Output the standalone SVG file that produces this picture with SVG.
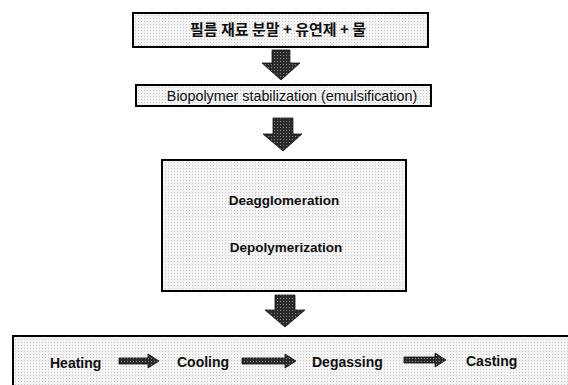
<svg xmlns="http://www.w3.org/2000/svg" width="568" height="385" viewBox="0 0 568 385">
<defs>
<pattern id="dots" width="3" height="3" patternUnits="userSpaceOnUse">
<rect width="3" height="3" fill="#f4f4f4"/>
<rect x="0" y="0" width="1" height="1" fill="#c8c8c8"/>
</pattern>
<pattern id="hatch" width="3" height="3" patternUnits="userSpaceOnUse">
<rect width="3" height="3" fill="#2a2a2a"/>
<rect x="1" y="1" width="1" height="1" fill="#8a8a8a"/>
</pattern>
</defs>
<style>
.box{fill:url(#dots);stroke:#000;stroke-width:2}
.arr{fill:url(#hatch);stroke:#111;stroke-width:0.8}
.t{font-family:"Liberation Sans",Arial,sans-serif;fill:#111}
.b{font-weight:bold;font-size:13.5px}
.k{font-family:"Noto Sans CJK KR","Liberation Sans",sans-serif;font-weight:bold;font-size:15px;fill:#111}
</style>
<rect width="568" height="385" fill="#fff"/>
<g id="node-materials">
<rect class="box" x="133" y="13" width="295" height="34"/>
<text class="k" x="278" y="35" text-anchor="middle">필름 재료 분말 + 유연제 + 물</text>
</g>
<g id="node-stabilization">
<rect class="box" x="136" y="85" width="295" height="21"/>
<text class="t" x="292" y="101" text-anchor="middle" font-size="14.3">Biopolymer stabilization (emulsification)</text>
</g>
<g id="node-deagglomeration">
<rect class="box" x="162" y="160" width="244" height="131"/>
<text class="t b" x="284" y="205" text-anchor="middle">Deagglomeration</text>
<text class="t b" x="286" y="252" text-anchor="middle">Depolymerization</text>
</g>
<g id="node-process">
<rect class="box" x="13" y="336" width="570" height="60"/>
<text class="t" x="50" y="368" font-weight="bold" font-size="14">Heating</text>
<text class="t" x="177" y="367" font-weight="bold" font-size="14">Cooling</text>
<text class="t" x="312" y="367" font-weight="bold" font-size="14">Degassing</text>
<text class="t" x="466" y="366" font-weight="bold" font-size="14">Casting</text>
</g>
<g id="connectors">
<path class="arr" d="M272,50 H290 V63 H300 L281,80 L262,63 H272 Z"/>
<path class="arr" d="M273,118 H293 V134 H302 L283,151 L263,134 H273 Z"/>
<path class="arr" d="M275,295 H295 V310 H305 L285,327 L265,310 H275 Z"/>
<path class="arr" d="M119,358 H148 V354 L159,361 L148,368 V364 H119 Z"/>
<path class="arr" d="M242,358 H285 V354 L296,361 L285,368 V364 H242 Z"/>
<path class="arr" d="M404,357 H435 V353 L446,360 L435,367 V363 H404 Z"/>
</g>
</svg>
